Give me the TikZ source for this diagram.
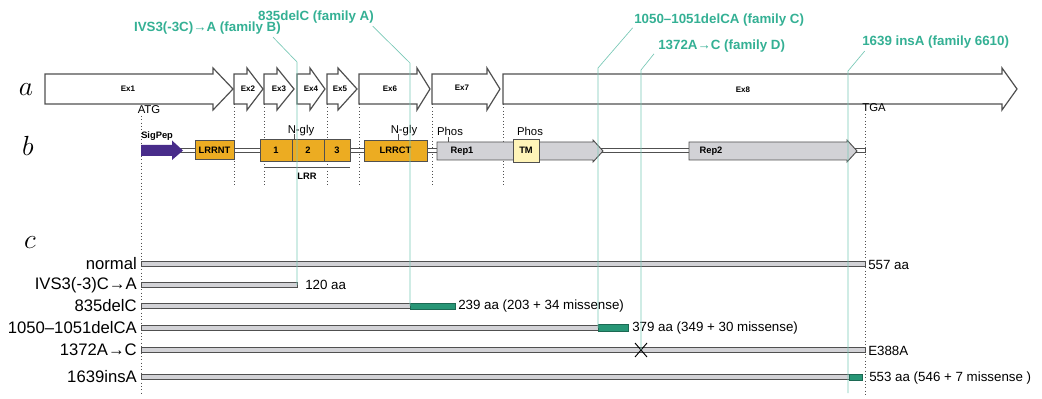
\documentclass[tikz,border=0pt]{standalone}
\usepackage{fontspec}
\setmainfont{Liberation Sans}
\definecolor{tealtxt}{RGB}{52,176,148}
\definecolor{tealln}{RGB}{120,200,182}
\definecolor{tealbar}{RGB}{40,150,118}
\definecolor{orng}{RGB}{236,172,34}
\definecolor{purp}{RGB}{72,44,138}
\definecolor{greyf}{RGB}{210,210,214}
\definecolor{tmf}{RGB}{255,244,184}
\definecolor{outl}{RGB}{80,80,80}
\tikzset{
 exon/.style={draw=outl, line width=0.9pt, fill=white, line join=miter},
 exlbl/.style={font=\fontsize{6}{7}\selectfont\bfseries, inner sep=0},
 mutlbl/.style={font=\fontsize{10}{12}\selectfont\bfseries, text=tealtxt, inner sep=0},
 mutline/.style={draw=tealln, line width=0.5pt},
 dotln/.style={draw=outl, dotted, line width=0.5pt},
 dombox/.style={draw=outl, line width=0.7pt},
 domlbl/.style={font=\fontsize{7}{8}\selectfont\bfseries, inner sep=0},
 rowlbl/.style={font=\fontsize{12.5}{14}\selectfont, inner sep=0, anchor=east},
 annot/.style={font=\fontsize{10}{12}\selectfont, inner sep=0, anchor=west},
 smlbl/.style={font=\fontsize{8.5}{9}\selectfont, inner sep=0},
 bar/.style={draw=outl, fill=greyf, line width=0.7pt},
 tbar/.style={draw=tealbar!70!black, fill=tealbar, line width=0.5pt},
 panel/.style={font=\fontsize{21}{21}\selectfont, inner sep=0},
}
\newcommand\exonarrow[3]{\path[exon] (#1,74) -- (#2,74) -- (#2,68) -- (#3,89) -- (#2,110) -- (#2,104) -- (#1,104) -- cycle;}
\newcommand\protbar[2]{\path[bar] (141,#1-2.5) rectangle (#2,#1+2.5);}
\begin{document}
\begin{tikzpicture}[x=0.75pt,y=-0.75pt]
\useasboundingbox (0,0) rectangle (1042,399);
% panel letters
\node[panel] (pa) at (26,90) {$a$};
\node[panel] (pb) at (28,146) {$b$};
\node[panel] (pc) at (30,243) {$c$};
% dotted guide lines
\foreach \xx in {234,264,327,359,432,503} {\draw[dotln] (\xx,104) -- (\xx,186);}
\draw[dotln] (141,116) -- (141,393);
\draw[dotln] (865,114) -- (865,395);
% row a: exons
\exonarrow{45}{213}{233}
\exonarrow{234}{247}{263}
\exonarrow{264}{277}{294}
\exonarrow{297}{310}{325}
\exonarrow{327}{338}{357}
\exonarrow{359}{417}{430}
\exonarrow{432}{487}{500}
\exonarrow{503}{1002}{1017}
\node[exlbl] (ex1) at (128,89) {Ex1};
\node[exlbl] (ex2) at (248,89) {Ex2};
\node[exlbl] (ex3) at (279,89) {Ex3};
\node[exlbl] (ex4) at (311,89) {Ex4};
\node[exlbl] (ex5) at (340,89) {Ex5};
\node[exlbl] (ex6) at (390,89) {Ex6};
\node[exlbl] (ex7) at (462,88) {Ex7};
\node[exlbl] (ex8) at (743,90) {Ex8};
\node[smlbl] (atg) at (149,110) {ATG};
\node[smlbl] (tga) at (874,108) {TGA};
% row b: protein domains
\path[draw=outl, fill=white, line width=0.6pt] (172,148) rectangle (865,152.5);
\path[fill=purp] (141,145) -- (172,145) -- (172,140.5) -- (183,150.5) -- (172,160) -- (172,156) -- (141,156) -- cycle;
\node[domlbl, anchor=west] (sigpep) at (141,136) {SigPep};
\path[dombox, fill=orng] (195,140) rectangle (234,159);
\node[domlbl] (lrrnt) at (214.5,150) {LRRNT};
\path[dombox, fill=orng] (260,139) rectangle (350,161);
\draw[dombox] (292,139) -- (292,161) (324,139) -- (324,161);
\node[domlbl] (lrr1) at (276,150) {1};
\node[domlbl] (lrr2) at (308,150) {2};
\node[domlbl] (lrr3) at (337,150) {3};
\path[dombox, fill=orng] (364,140) rectangle (427,161);
\node[domlbl] (lrrct) at (395.5,150.5) {LRRCT};
\path[dombox, fill=greyf] (437,142) -- (593,142) -- (593,140) -- (603,151) -- (593,162) -- (593,160) -- (437,160) -- cycle;
\node[domlbl] (rep1) at (462,151) {Rep1};
\path[dombox, fill=tmf] (513,139) rectangle (539,162);
\node[domlbl] (tm) at (526,150.5) {TM};
\path[dombox, fill=greyf] (689,142) -- (847,142) -- (847,140) -- (857,151) -- (847,162) -- (847,160) -- (689,160) -- cycle;
\node[domlbl] (rep2) at (711,151) {Rep2};
\node[smlbl] (ngly1) at (301,131) {N-gly};
\node[smlbl] (ngly2) at (404,131) {N-gly};
\draw[outl, line width=0.5pt] (294.5,134) -- (294.5,139) (398,134) -- (398,140);
\node[smlbl] (phos1) at (450,131) {Phos};
\node[smlbl] (phos2) at (530,131) {Phos};
\draw[outl, line width=0.5pt] (448,137) -- (448,142);
\draw[outl, line width=0.7pt] (265,167) -- (350,167);
\node[domlbl] (lrr) at (307,176) {LRR};
% row c: protein products
\node[rowlbl] (rn) at (137,264) {normal};
\node[rowlbl] (rb) at (137,285) {IVS3(-3)C→A};
\node[rowlbl] (ra) at (137,306) {835delC};
\node[rowlbl] (rc) at (137,328) {1050–1051delCA};
\node[rowlbl] (rd) at (137,350) {1372A→C};
\node[rowlbl] (re) at (137,377) {1639insA};
\protbar{264}{865}
\protbar{285}{297}
\protbar{306}{410}
\path[tbar] (410,303) rectangle (455,309.5);
\protbar{328}{598}
\path[tbar] (598,324.5) rectangle (628,331);
\protbar{350}{865}
\protbar{377}{849}
\path[tbar] (849,374) rectangle (862,380.5);
\node[annot] (an) at (868,265) {557 aa};
\node[annot] (ab) at (305,285) {120 aa};
\node[annot] (aa) at (458,306) {239 aa (203 + 34 missense)};
\node[annot] (ac) at (632,328) {379 aa (349 + 30 missense)};
\node[annot] (ad) at (868,351) {E388A};
\node[annot] (ae) at (869,378) {553 aa (546 + 7 missense )};
\coordinate (xm) at (641,350);
\draw[black, line width=0.7pt] ([shift={(-6,-7)}]xm) -- ([shift={(6,7)}]xm) ([shift={(-6,7)}]xm) -- ([shift={(6,-7)}]xm);
% mutation labels and lines
\node[mutlbl, anchor=east] (mB) at (281,28) {IVS3(-3C)→A (family B)};
\node[mutlbl, anchor=east] (mA) at (374,17) {835delC (family A)};
\node[mutlbl, anchor=west] (mC) at (634,20) {1050–1051delCA (family C)};
\node[mutlbl, anchor=west] (mD) at (658,46) {1372A→C (family D)};
\node[mutlbl, anchor=west] (mE) at (862,42) {1639 insA (family 6610)};
\coordinate (kB) at (297,62); \coordinate (eB) at (297,285);
\coordinate (kA) at (410,63); \coordinate (eA) at (410,306);
\coordinate (kC) at (598,68); \coordinate (eC) at (598,328);
\coordinate (kD) at (641,70); \coordinate (eD) at (641,350);
\coordinate (kE) at (848,71); \coordinate (eE) at (848,393);
\draw[mutline] ([xshift=-6pt,yshift=-2pt]mB.south east) -- (kB) -- (eB);
\draw[mutline] ([xshift=-1pt,yshift=-2pt]mA.south east) -- (kA) -- (eA);
\draw[mutline] ([xshift=-1pt,yshift=-1pt]mC.south west) -- (kC) -- (eC);
\draw[mutline] ([xshift=-3pt,yshift=-1pt]mD.south west) -- (kD) -- (eD);
\draw[mutline] ([xshift=2pt,yshift=-2pt]mE.south west) -- (kE) -- (eE);
\end{tikzpicture}
\end{document}
